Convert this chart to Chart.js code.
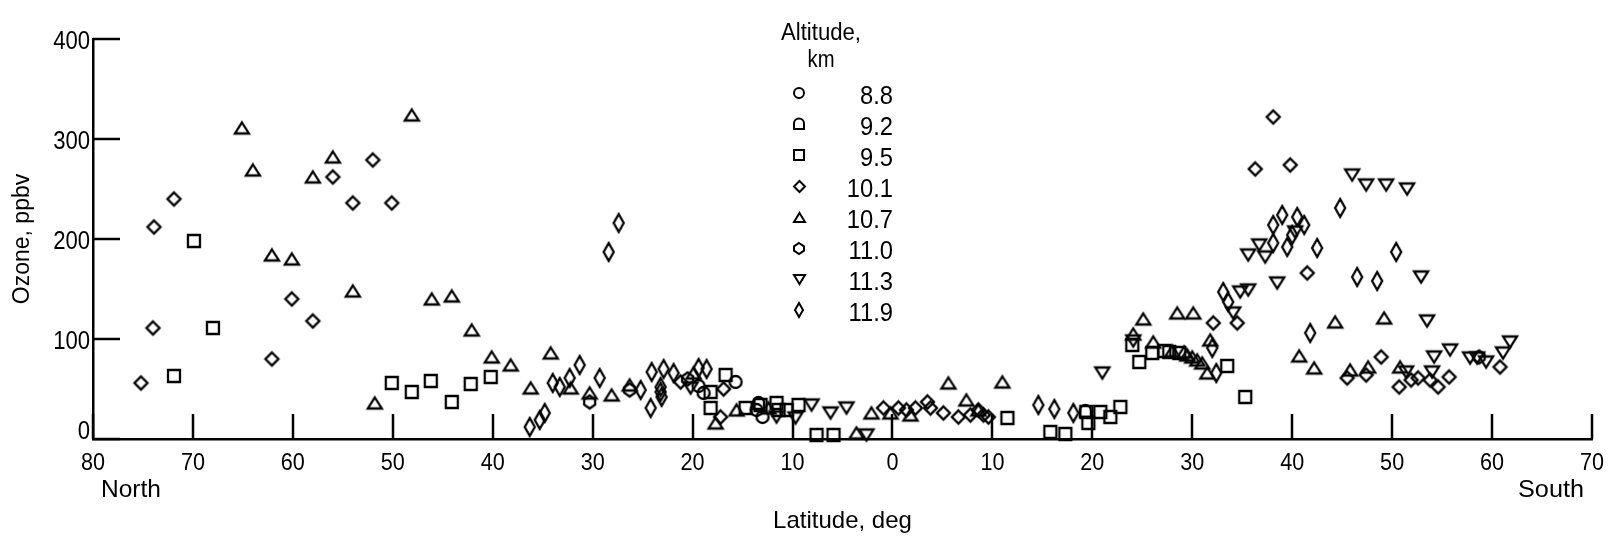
<!DOCTYPE html>
<html>
<head>
<meta charset="utf-8">
<script src="https://cdn.jsdelivr.net/npm/chart.js@4.4.1/dist/chart.umd.min.js"></script>
<style>
  html, body { margin: 0; padding: 0; background: #fff; }
  canvas { display: block; }
</style>
</head>
<body>
<canvas id="ozone" width="1621" height="544"></canvas>
<script>
// Latitude in degrees: north positive, south negative. Ozone in ppbv.
const altitudes = ['8.8', '9.2', '9.5', '10.1', '10.7', '11.0', '11.3', '11.9'];

const lat88 = [19.4, 18.9, 15.7, 13.6, 13.0];
const oz88  = [53, 46, 57, 29, 22];

const lat92 = [13.4, -19.3];
const oz92  = [36, 28];

const lat95 = [71.9, 69.9, 68.0, 50.1, 48.1, 46.2, 44.1, 42.2, 40.2, 18.2, 16.7, 18.2, 14.7, 13.2,
               11.6, 11.4, 10.6, 9.4, 7.6, 5.9, -11.5, -15.8, -17.3, -19.4, -19.6, -20.8, -21.8,
               -22.8, -24.0, -24.7, -26.0, -27.2, -27.7, -28.7, -33.5, -35.3];
const oz95  = [63, 198, 111, 56, 47, 58, 37, 55, 62, 47, 64, 31, 31, 34,
               36, 29, 29, 34, 4, 4, 21, 7, 5, 27, 16, 27, 22,
               32, 94, 77, 86, 88, 87, 86, 73, 42];

const lat101 = [75.2, 74.0, 73.9, 71.9, 62.1, 60.1, 58.0, 56.0, 54.0, 52.0, 50.1, 21.2, 17.2, 16.9,
                0.9, -0.6, -1.4, -2.3, -3.5, -3.8, -5.1, -6.6, -7.8, -8.6, -9.1, -9.6,
                -32.1, -34.5, -36.3, -38.1, -39.8, -41.5, -45.5, -47.4, -48.9, -50.7, -51.9,
                -52.6, -53.8, -54.6, -55.7, -60.8];
const oz101  = [56, 111, 212, 240, 80, 140, 118, 262, 236, 279, 236, 57, 22, 50,
                31, 31, 29, 31, 37, 31, 26, 22, 24, 29, 24, 22,
                116, 116, 270, 322, 274, 166, 61, 64, 82, 52, 59,
                61, 59, 52, 62, 72];

const lat107 = [65.1, 64.0, 62.1, 60.1, 58.0, 56.0, 54.0, 51.8, 48.1, 46.1, 44.1, 42.1, 40.1, 38.2,
                36.2, 34.2, 32.2, 30.3, 28.1, 26.3, 19.9, 17.7, 15.6, 12.4, 3.6, 2.1, 0.2,
                -1.8, -5.6, -7.4, -8.6, -11.0, -24.1, -25.1, -26.1, -28.0, -28.5, -29.2, -29.5,
                -30.1, -30.0, -30.5, -31.0, -31.5, -31.8, -40.7, -42.2, -44.3, -45.8, -47.6,
                -49.2, -50.8];
const oz107  = [311, 269, 184, 180, 262, 282, 148, 36, 324, 140, 143, 109, 82, 74,
                51, 86, 51, 46, 44, 54, 66, 16, 29, 31, 6, 26, 26,
                24, 56, 39, 29, 57, 105, 120, 97, 88, 126, 87, 84,
                126, 82, 79, 76, 66, 99, 83, 71, 117, 69, 72,
                121, 72];

const lat110 = [30.3, 26.3, 20.5, -58.7];
const oz110  = [37, 49, 60, 82];

const lat113 = [20.2, 11.6, 9.7, 8.1, 6.2, 4.6, 2.6, -21.0, -24.1, -34.1, -34.8, -35.6, -35.6,
                -36.7, -37.3, -38.5, -40.3, -46.0, -47.4, -49.4, -51.5, -52.9, -53.5, -51.4,
                -54.2, -54.0, -55.8, -57.8, -58.5, -59.4, -61.1, -61.8];
const oz113  = [51, 22, 21, 34, 26, 31, 4, 66, 98, 126, 147, 149, 184,
                194, 182, 156, 207, 264, 254, 254, 250, 162, 118, 67,
                82, 67, 89, 81, 81, 77, 86, 97];

const lat119 = [36.3, 35.3, 34.8, 34.0, 33.3, 32.3, 31.3, 29.3, 28.4, 27.4, 25.2, 24.1, 24.2,
                23.2, 23.2, 23.1, 22.9, 21.9, 19.4, 18.6, -14.6, -16.2, -18.1, -32.0, -32.4,
                -33.1, -33.6, -38.1, -39.0, -40.5, -41.2, -40.0, -39.5, -38.1, -42.5, -41.8,
                -44.8, -46.5, -48.5, -50.4];
const oz119  = [12, 19, 26, 56, 52, 61, 74, 61, 187, 216, 49, 67, 31,
                52, 47, 42, 70, 66, 71, 70, 34, 30, 26, 91, 66,
                147, 137, 214, 224, 222, 214, 204, 192, 196, 191, 106,
                231, 162, 158, 187];

const xTicks = [80, 70, 60, 50, 40, 30, 20, 10, 0, -10, -20, -30, -40, -50, -60, -70];
const yTicks = [0, 100, 200, 300, 400];

const INK = '#000';
const FONT = "'Liberation Sans', Arial, sans-serif";

// Text in a tall, narrow lettering style: glyphs are squeezed horizontally.
function putText(ctx, str, x, y, o) {
  ctx.save();
  ctx.font = o.size + 'px ' + FONT;
  ctx.fillStyle = INK;
  ctx.textAlign = o.align || 'center';
  ctx.textBaseline = o.baseline || 'middle';
  let sx = o.sx || 1;
  if (o.width) sx = o.width / ctx.measureText(str).width;
  ctx.translate(x, y);
  if (o.rotate) ctx.rotate(o.rotate);
  ctx.scale(sx, 1);
  ctx.fillText(str, 0, 0);
  ctx.restore();
}

// Open outline symbols rendered onto small canvases and used as point styles.
function symbol(kind, w, h, lw) {
  const pad = Math.ceil(lw) + 1;
  const c = document.createElement('canvas');
  c.width = Math.round(w + 2 * pad);
  c.height = Math.round(h + 2 * pad);
  const g = c.getContext('2d');
  g.translate(pad, pad);
  g.lineWidth = lw;
  g.strokeStyle = INK;
  g.lineJoin = 'miter';
  const cx = w / 2, cy = h / 2;
  g.beginPath();
  switch (kind) {
    case 'circle':
      g.arc(cx, cy, Math.min(w, h) / 2, 0, Math.PI * 2);
      break;
    case 'dome':
      g.moveTo(0, h * 0.45);
      g.lineTo(0, h); g.lineTo(w, h); g.lineTo(w, h * 0.45);
      g.arc(cx, h * 0.45, w / 2, 0, Math.PI, true);
      break;
    case 'square':
      g.rect(0, 0, w, h);
      break;
    case 'diamond':
    case 'tall':
      g.moveTo(cx, 0); g.lineTo(w, cy); g.lineTo(cx, h); g.lineTo(0, cy);
      break;
    case 'up':
      g.moveTo(cx, 0); g.lineTo(w, h); g.lineTo(0, h);
      break;
    case 'down':
      g.moveTo(0, 0); g.lineTo(w, 0); g.lineTo(cx, h);
      break;
    case 'hex':
      g.moveTo(cx, 0); g.lineTo(w, h * 0.3); g.lineTo(w, h * 0.7);
      g.lineTo(cx, h); g.lineTo(0, h * 0.7); g.lineTo(0, h * 0.3);
      break;
  }
  g.closePath();
  g.stroke();
  return c;
}

const kinds = ['circle', 'dome', 'square', 'diamond', 'up', 'hex', 'down', 'tall'];
const plotSize = {
  circle: [12, 12], dome: [11, 12], square: [12, 12], diamond: [13, 13],
  up: [14, 11], hex: [11, 13], down: [14, 11], tall: [10, 18]
};
const keySize = {
  circle: [10, 10], dome: [10, 10], square: [10, 10], diamond: [11, 11],
  up: [11, 9], hex: [10, 11], down: [11, 9], tall: [8, 14]
};

const series = [
  [lat88, oz88], [lat92, oz92], [lat95, oz95], [lat101, oz101],
  [lat107, oz107], [lat110, oz110], [lat113, oz113], [lat119, oz119]
];

const datasets = series.map(([lat, oz], i) => ({
  label: altitudes[i] + ' km',
  data: lat.map((x, j) => ({ x, y: oz[j] })),
  pointStyle: symbol(kinds[i], plotSize[kinds[i]][0], plotSize[kinds[i]][1], 2.3),
  pointRadius: 7,
  showLine: false,
  clip: false
}));

const keyIcons = kinds.map(k => symbol(k, keySize[k][0], keySize[k][1], 2));

// Inward-pointing tick marks and the tick labels of both axes.
const axisMarks = {
  id: 'axisMarks',
  beforeDatasetsDraw(chart) {
    const { ctx, chartArea: a, scales: { x, y } } = chart;
    ctx.save();
    ctx.strokeStyle = INK;
    ctx.lineWidth = 2.5;
    ctx.beginPath();
    xTicks.forEach(v => {
      const px = Math.round(x.getPixelForValue(v));
      ctx.moveTo(px, a.bottom);
      ctx.lineTo(px, a.bottom - 25);
    });
    yTicks.forEach(v => {
      const py = Math.round(y.getPixelForValue(v));
      ctx.moveTo(a.left, py);
      ctx.lineTo(a.left + 27, py);
    });
    ctx.stroke();
    ctx.restore();

    xTicks.forEach(v => {
      putText(ctx, String(Math.abs(v)), x.getPixelForValue(v), a.bottom + 24, { size: 24, sx: 0.9 });
    });
    yTicks.forEach(v => {
      const py = y.getPixelForValue(v) + (v === 0 ? -7 : 3);
      putText(ctx, String(v), a.left - 3, py, { size: 26, sx: 0.85, align: 'right' });
    });
  }
};

// Altitude key and hemisphere labels.
const altitudeKey = {
  id: 'altitudeKey',
  afterDraw(chart) {
    const { ctx, scales: { x } } = chart;
    putText(ctx, 'Altitude,', 821, 40, { size: 23, baseline: 'alphabetic', width: 80 });
    putText(ctx, 'km', 821, 67, { size: 23, baseline: 'alphabetic', width: 27 });

    altitudes.forEach((alt, i) => {
      const ty = 97 + i * 31;
      const icon = keyIcons[i];
      ctx.drawImage(icon, Math.round(799 - icon.width / 2), Math.round(ty - 4 - icon.height / 2));
      putText(ctx, alt, 893, ty, { size: 25, align: 'right', sx: 0.95 });
    });

    putText(ctx, 'North', x.getPixelForValue(80) + 8, 491, { size: 23, align: 'left', width: 60 });
    putText(ctx, 'South', x.getPixelForValue(-70) - 8, 491, { size: 23, align: 'right', width: 66 });
  }
};

new Chart(document.getElementById('ozone'), {
  type: 'scatter',
  data: { datasets },
  options: {
    responsive: false,
    animation: false,
    devicePixelRatio: 1,
    layout: { padding: { top: 39, right: 29, left: 0, bottom: 0 } },
    plugins: { legend: { display: false }, tooltip: { enabled: false } },
    scales: {
      x: {
        type: 'linear',
        position: 'bottom',
        min: -70,
        max: 80,
        reverse: true,
        afterFit: s => { s.height = 105; },
        ticks: { display: false, stepSize: 10 },
        grid: { drawOnChartArea: false, drawTicks: false },
        border: { display: true, color: INK, width: 2.5 },
        title: {
          display: true,
          text: 'Latitude, deg',
          color: INK,
          font: { family: FONT, size: 24 },
          padding: { top: 0, bottom: 8 }
        }
      },
      y: {
        type: 'linear',
        min: 0,
        max: 400,
        afterFit: s => { s.width = 93; },
        ticks: { display: false, stepSize: 100 },
        grid: { drawOnChartArea: false, drawTicks: false },
        border: { display: true, color: INK, width: 2.5 },
        title: {
          display: true,
          text: 'Ozone, ppbv',
          color: INK,
          font: { family: FONT, size: 23 },
          padding: { top: 9, bottom: 0 }
        }
      }
    }
  },
  plugins: [axisMarks, altitudeKey]
});
</script>
</body>
</html>
